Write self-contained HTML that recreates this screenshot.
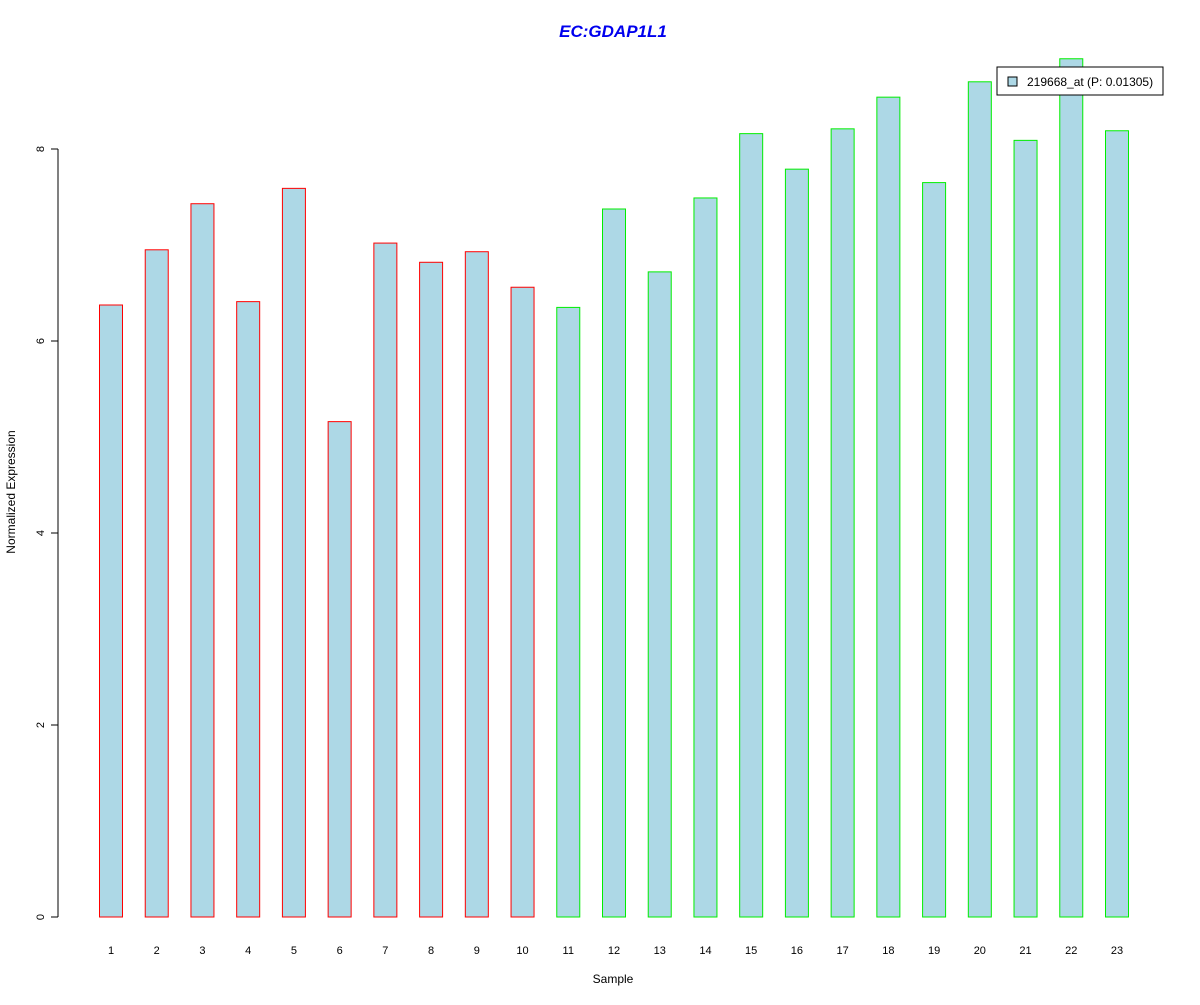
<!DOCTYPE html>
<html><head><meta charset="utf-8"><style>body{margin:0;background:#fff}svg text{font-family:"Liberation Sans",Arial,sans-serif}</style></head>
<body>
<svg id="chart" width="1200" height="1000" xmlns="http://www.w3.org/2000/svg">
<text x="613" y="37" text-anchor="middle" font-size="17" font-weight="bold" font-style="italic" fill="#0000ee">EC:GDAP1L1</text>
<g id="bars"></g>
<g id="yaxis"></g>
<g id="xlabels"></g>
<text x="613" y="983" text-anchor="middle" font-size="12">Sample</text>
<text transform="translate(15,492) rotate(-90)" text-anchor="middle" font-size="12">Normalized Expression</text>
<g>
<rect x="997" y="67" width="166" height="28" fill="#fff" stroke="#000"/>
<rect x="1008" y="77" width="9" height="9" fill="#add8e6" stroke="#000"/>
<text x="1027" y="86" font-size="12">219668_at (P: 0.01305)</text>
</g>
</svg>
<script>
const categories=["1","2","3","4","5","6","7","8","9","10","11","12","13","14","15","16","17","18","19","20","21","22","23"];
const values=[6.375,6.95,7.43,6.41,7.59,5.16,7.02,6.82,6.93,6.56,6.35,7.375,6.72,7.49,8.16,7.79,8.21,8.54,7.65,8.70,8.09,8.94,8.19];
const groups=["red","red","red","red","red","red","red","red","red","red","#00ee00","#00ee00","#00ee00","#00ee00","#00ee00","#00ee00","#00ee00","#00ee00","#00ee00","#00ee00","#00ee00","#00ee00","#00ee00"];
const yTicks=[0,2,4,6,8];
const NS="http://www.w3.org/2000/svg";
const y=v=>917-v*96;
const x=i=>111+i*(1117-111)/22;
const bars=document.getElementById('bars');
values.forEach((v,i)=>{
 const r=document.createElementNS(NS,'rect');
 r.setAttribute('x',x(i)-11.5);r.setAttribute('width',23);
 r.setAttribute('y',y(v));r.setAttribute('height',y(0)-y(v));
 r.setAttribute('fill','#add8e6');r.setAttribute('stroke',groups[i]);
 
 
 bars.appendChild(r);
 const t=document.createElementNS(NS,'text');
 t.setAttribute('x',x(i));t.setAttribute('y',954);t.setAttribute('text-anchor','middle');t.setAttribute('font-size','11');
 t.textContent=categories[i];
 
 
 document.getElementById('xlabels').appendChild(t);
});
const ya=document.getElementById('yaxis');
const ax=document.createElementNS(NS,'line');
ax.setAttribute('x1',58);ax.setAttribute('x2',58);ax.setAttribute('y1',y(0));ax.setAttribute('y2',y(8));ax.setAttribute('stroke','#000');
ya.appendChild(ax);
yTicks.forEach(v=>{
 const l=document.createElementNS(NS,'line');
 l.setAttribute('x1',51);l.setAttribute('x2',58);l.setAttribute('y1',y(v));l.setAttribute('y2',y(v));l.setAttribute('stroke','#000');
 ya.appendChild(l);
 const t=document.createElementNS(NS,'text');
 t.setAttribute('transform','translate(44,'+y(v)+') rotate(-90)');t.setAttribute('text-anchor','middle');t.setAttribute('font-size','11');
 t.textContent=v;
 
 
 ya.appendChild(t);
});
</script>
</body></html>
